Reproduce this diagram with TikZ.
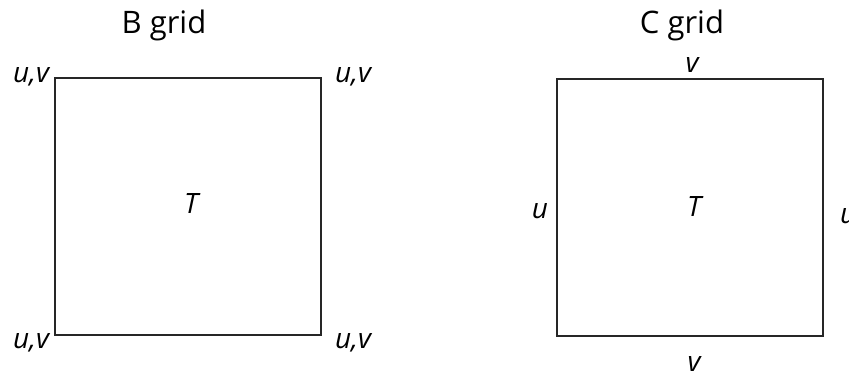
\documentclass[tikz,border=0pt]{standalone}
\usepackage{fontspec}
\setmainfont{Open Sans}
\begin{document}
\begin{tikzpicture}[x=1pt,y=-1pt,
  lbl/.style={inner sep=0pt, font=\fontsize{28}{31}\selectfont\itshape},
  ttl/.style={inner sep=0pt, font=\fontsize{31}{34}\selectfont},
  cell/.style={draw=black!85, line width=2pt}]
\useasboundingbox (0,0) rectangle (849,378);
% B grid
\coordinate (b1) at (55,78);
\coordinate (b2) at (321,335);
\draw[cell] (b1) rectangle (b2);
\node[ttl, anchor=base] (tb) at (164,33) {B grid};
\node[lbl, anchor=base] (bT) at (191,213) {T};
\node[lbl, anchor=base] (btl) at (31,82) {u,v};
\node[lbl, anchor=base] (btr) at (353,82) {u,v};
\node[lbl, anchor=base] (bbl) at (31,348) {u,v};
\node[lbl, anchor=base] (bbr) at (353,348) {u,v};
% C grid
\coordinate (c1) at (557,79);
\coordinate (c2) at (823,336);
\draw[cell] (c1) rectangle (c2);
\node[ttl, anchor=base] (tc) at (682,33) {C grid};
\node[lbl, anchor=base] (cT) at (694,216) {T};
\node[lbl, anchor=base] (cvt) at (692,72) {v};
\node[lbl, anchor=base] (cvb) at (694,371) {v};
\node[lbl, anchor=base] (cul) at (540,218) {u};
\node[lbl, anchor=base west] (cur) at (840,223) {u};
\end{tikzpicture}
\end{document}
